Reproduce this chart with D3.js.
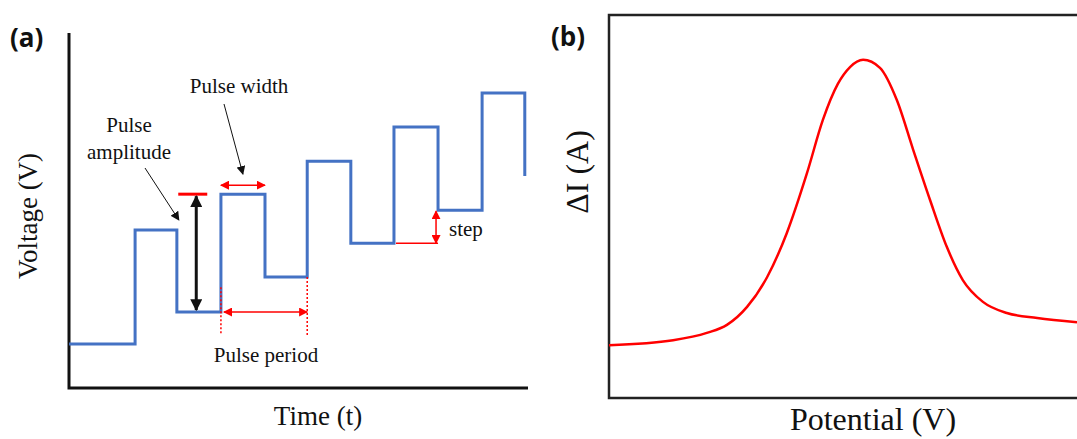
<!DOCTYPE html>
<meta charset="utf-8">
<script src="https://d3js.org/d3.v7.min.js"></script>
<style>
  body { margin: 0; background: #fff; }
  .serif { font-family: "Liberation Serif", "Times New Roman", serif; fill: #111; }
  .panel { font-family: "Open Sans", "Liberation Sans", sans-serif; font-weight: bold; fill: #111; }
</style>
<div id="chart"></div>
<script>

// ---- panel (a): pulse waveform (time, voltage in arbitrary units)
var riseT = [14.4, 33.1, 51.9, 70.8, 90.0];
var fallT = [23.5, 42.7, 61.4, 80.4, 99.3];
var lowV  = [12.4, 21.4, 31.3, 40.8, 50.1, 59.7];
var highV = [44.5, 54.6, 63.9, 73.5, 83.1];

// ---- panel (b): differential current vs potential
var potential = [0, 13.7, 20.9, 25.2, 29.5, 33.8, 38.0, 42.3, 45.7, 48.9, 51.5, 54.3,
                 57.9, 61.5, 65.0, 68.6, 72.2, 75.6, 79.9, 85.0, 91.5, 100];
var deltaI    = [13.8, 15.1, 17.0, 19.1, 23.8, 31.6, 43.1, 58.7, 72.6, 82.0, 86.4, 88.3,
                 86.2, 77.8, 64.8, 51.7, 39.4, 30.8, 25.1, 22.2, 20.9, 19.8];

var W = 1077, H = 439;
var blue = "#4472c4", red = "#ff0000";

var svg = d3.select("#chart").append("svg")
    .attr("width", W).attr("height", H);

// arrow heads
var defs = svg.append("defs");
function marker(id, color, size) {
  defs.append("marker")
      .attr("id", id)
      .attr("viewBox", "0 0 10 10")
      .attr("refX", 9).attr("refY", 5)
      .attr("markerWidth", size).attr("markerHeight", size)
      .attr("markerUnits", "userSpaceOnUse")
      .attr("orient", "auto-start-reverse")
    .append("path")
      .attr("d", "M0,0 L10,5 L0,10 Z")
      .attr("fill", color);
}
marker("redHead", red, 9);
marker("blackHead", "#111", 9);
marker("bigHead", "#111", 12);

// ================= panel (a)
var xa = d3.scaleLinear().domain([0, 100]).range([69, 528]);
var ya = d3.scaleLinear().domain([0, 100]).range([388, 33]);

var ga = svg.append("g");

// axes (no ticks)
ga.append("path")
    .attr("d", "M" + xa(0) + "," + ya(100) + "V" + ya(0) + "H" + xa(100))
    .attr("fill", "none").attr("stroke", "#111").attr("stroke-width", 3);

// waveform points
var wave = [[0, lowV[0]]];
riseT.forEach(function(t, i) {
  wave.push([t, lowV[i]], [t, highV[i]], [fallT[i], highV[i]], [fallT[i], lowV[i + 1]]);
});
ga.append("path")
    .datum(wave)
    .attr("d", d3.line().x(function(d) { return xa(d[0]); }).y(function(d) { return ya(d[1]); }))
    .attr("fill", "none").attr("stroke", blue).attr("stroke-width", 3)
    .attr("stroke-linejoin", "miter");

// pulse amplitude: red bar + black double arrow
var ampT = fallT[0] + 0.44 * (riseT[1] - fallT[0]);
ga.append("line")
    .attr("x1", xa(ampT) - 18).attr("x2", xa(ampT) + 11)
    .attr("y1", ya(highV[1])).attr("y2", ya(highV[1]))
    .attr("stroke", red).attr("stroke-width", 3);
ga.append("line")
    .attr("x1", xa(ampT)).attr("x2", xa(ampT))
    .attr("y1", ya(highV[1]) + 2).attr("y2", ya(lowV[1]) - 2)
    .attr("stroke", "#111").attr("stroke-width", 3)
    .attr("marker-start", "url(#bigHead)").attr("marker-end", "url(#bigHead)");

// pulse width
ga.append("line")
    .attr("x1", xa(riseT[1])).attr("x2", xa(fallT[1]))
    .attr("y1", ya(highV[1]) - 9).attr("y2", ya(highV[1]) - 9)
    .attr("stroke", red).attr("stroke-width", 1.5)
    .attr("marker-start", "url(#redHead)").attr("marker-end", "url(#redHead)");

// pulse period
[[riseT[1], lowV[1] + 7], [riseT[2], lowV[2]]].forEach(function(d) {
  ga.append("line")
      .attr("x1", xa(d[0])).attr("x2", xa(d[0]))
      .attr("y1", ya(d[1])).attr("y2", ya(lowV[1]) + 23)
      .attr("stroke", red).attr("stroke-width", 1.5)
      .attr("stroke-dasharray", "2,2");
});
ga.append("line")
    .attr("x1", xa(riseT[1]) + 3).attr("x2", xa(riseT[2]))
    .attr("y1", ya(lowV[1])).attr("y2", ya(lowV[1]))
    .attr("stroke", red).attr("stroke-width", 1.5)
    .attr("marker-start", "url(#redHead)").attr("marker-end", "url(#redHead)");

// step
ga.append("line")
    .attr("x1", xa(riseT[3]) + 2).attr("x2", xa(fallT[3]))
    .attr("y1", ya(lowV[3])).attr("y2", ya(lowV[3]))
    .attr("stroke", red).attr("stroke-width", 1.5);
ga.append("line")
    .attr("x1", xa(fallT[3]) - 2).attr("x2", xa(fallT[3]) - 2)
    .attr("y1", ya(lowV[3])).attr("y2", ya(lowV[4]) + 1)
    .attr("stroke", red).attr("stroke-width", 1.5)
    .attr("marker-start", "url(#redHead)").attr("marker-end", "url(#redHead)");

// black pointer arrows
ga.append("line")
    .attr("x1", 224).attr("y1", 104)
    .attr("x2", xa(riseT[1]) + 22).attr("y2", ya(highV[1]) - 20)
    .attr("stroke", "#111").attr("stroke-width", 1)
    .attr("marker-end", "url(#blackHead)");
ga.append("line")
    .attr("x1", 145).attr("y1", 168)
    .attr("x2", xa(fallT[0]) + 2).attr("y2", ya(highV[0]) - 10)
    .attr("stroke", "#111").attr("stroke-width", 1)
    .attr("marker-end", "url(#blackHead)");

// texts
ga.append("text").attr("class", "panel").attr("x", 10).attr("y", 47)
    .style("font-size", "26px").text("(a)");
ga.append("text").attr("class", "serif")
    .attr("transform", "translate(37,216) rotate(-90)")
    .attr("text-anchor", "middle").style("font-size", "27px").text("Voltage (V)");
ga.append("text").attr("class", "serif")
    .attr("x", 318).attr("y", 425).attr("text-anchor", "middle")
    .style("font-size", "27px").text("Time (t)");
ga.append("text").attr("class", "serif")
    .attr("x", 239).attr("y", 93).attr("text-anchor", "middle")
    .style("font-size", "21px").text("Pulse width");
ga.append("text").attr("class", "serif")
    .attr("x", 129).attr("y", 132).attr("text-anchor", "middle")
    .style("font-size", "21px").text("Pulse");
ga.append("text").attr("class", "serif")
    .attr("x", 129).attr("y", 159).attr("text-anchor", "middle")
    .style("font-size", "21px").text("amplitude");
ga.append("text").attr("class", "serif")
    .attr("x", 266).attr("y", 362).attr("text-anchor", "middle")
    .style("font-size", "21px").text("Pulse period");
ga.append("text").attr("class", "serif")
    .attr("x", 449).attr("y", 236)
    .style("font-size", "21px").text("step");

// ================= panel (b)
var xb = d3.scaleLinear().domain([0, 100]).range([609, 1077]);
var yb = d3.scaleLinear().domain([0, 100]).range([398, 15]);

var gb = svg.append("g");

gb.append("rect")
    .attr("x", xb(0)).attr("y", yb(100))
    .attr("width", xb(100) - xb(0) + 20).attr("height", yb(0) - yb(100))
    .attr("fill", "none").attr("stroke", "#222").attr("stroke-width", 2.5);

gb.append("path")
    .datum(potential.map(function(p, i) { return [p, deltaI[i]]; }))
    .attr("d", d3.line()
        .x(function(d) { return xb(d[0]); })
        .y(function(d) { return yb(d[1]); })
        .curve(d3.curveMonotoneX))
    .attr("fill", "none").attr("stroke", red).attr("stroke-width", 2.5);

gb.append("text").attr("class", "panel").attr("x", 551).attr("y", 46)
    .style("font-size", "26px").text("(b)");
gb.append("text").attr("class", "serif")
    .attr("transform", "translate(588,172) rotate(-90)")
    .attr("text-anchor", "middle").style("font-size", "32px").text("ΔI (A)");
gb.append("text").attr("class", "serif")
    .attr("x", 873).attr("y", 430).attr("text-anchor", "middle")
    .style("font-size", "32px").text("Potential (V)");

</script>
